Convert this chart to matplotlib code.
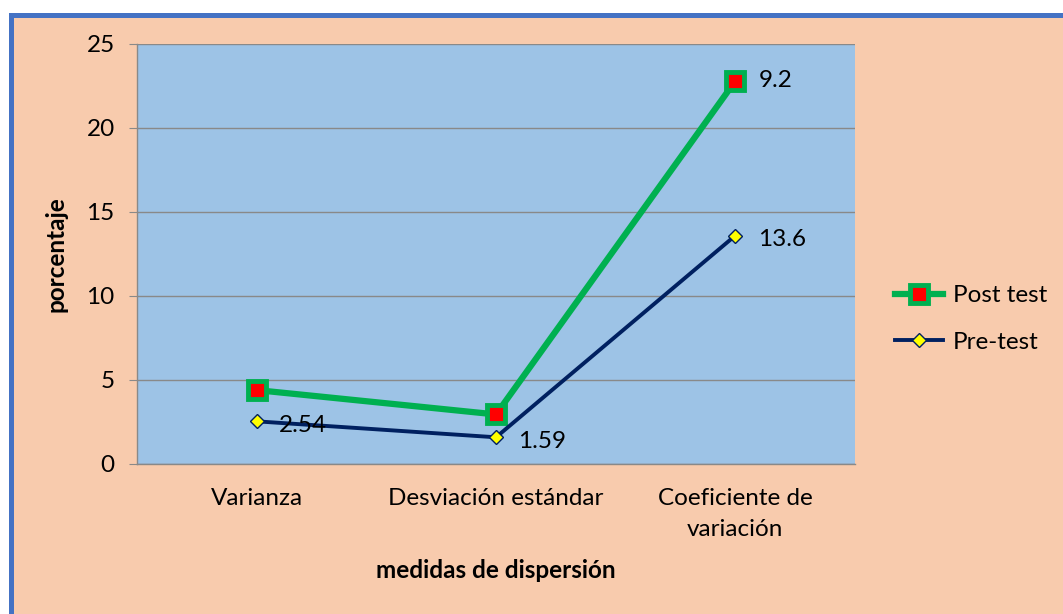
import matplotlib
matplotlib.use("Agg")
import matplotlib.pyplot as plt
from matplotlib.patches import Rectangle
import numpy as np

categories = ["Varianza", "Desviación estándar", "Coeficiente de\nvariación"]
post_test = [4.4, 2.95, 22.8]
pre_test = [2.54, 1.59, 13.6]
# etiquetas tal como aparecen en el grafico original
pre_labels = ["2.54", "1.59", "13.6"]
post_labels = ["", "", "9.2"]

plt.rcParams['font.family'] = ['Lato', 'DejaVu Sans']
FS = 17.5

W, H = 1063, 614
fig = plt.figure(figsize=(W / 100, H / 100), dpi=100)
fig.patch.set_facecolor("white")

# fondo salmon con borde azul (cortado a la derecha y abajo)
bx, by = 10.5 / W, 14.5 / H
fig.patches.append(Rectangle((bx, -0.05), 1.2, 1 - by + 0.05, transform=fig.transFigure,
                             facecolor="#F8CBAD", edgecolor="#4472C4", linewidth=3.6, zorder=-5))

ax = fig.add_axes([137 / W, 1 - 464 / H, (855 - 137) / W, (464 - 44) / H])
ax.set_facecolor("#9DC3E6")

x = np.arange(len(categories))
ax.plot(x, post_test, color="#00B050", lw=4.5, marker="s", markersize=13,
        markerfacecolor="#FF0000", markeredgecolor="#00B050", markeredgewidth=3.5,
        label="Post test", zorder=3)
ax.plot(x, pre_test, color="#002060", lw=2.8, marker="D", markersize=7,
        markerfacecolor="#FFFF00", markeredgecolor="#002060", markeredgewidth=1,
        label="Pre-test", zorder=4)

for xi, yi, t in zip(x, pre_test, pre_labels):
    if t:
        ax.annotate(t, (xi, yi), xytext=(16, -3), textcoords="offset points",
                    ha="left", va="center", fontsize=FS, color="black", zorder=5)
for xi, yi, t in zip(x, post_test, post_labels):
    if t:
        ax.annotate(t, (xi, yi), xytext=(17, 0), textcoords="offset points",
                    ha="left", va="center", fontsize=FS, color="black", zorder=5)

ax.set_xlim(-0.5, len(categories) - 0.5)
ax.set_ylim(0, 25)
ax.set_yticks([0, 5, 10, 15, 20, 25])
ax.set_xticks(x)
ax.set_xticklabels(categories, fontsize=FS, linespacing=1.6)
ax.tick_params(axis="y", labelsize=FS, length=6, color="#898989", pad=10)
ax.tick_params(axis="x", length=0, pad=17)
ax.grid(axis="y", color="#898989", lw=1)
ax.set_axisbelow(True)
for s in ["top", "right"]:
    ax.spines[s].set_visible(False)
for s in ["left", "bottom"]:
    ax.spines[s].set_color("#898989")
    ax.spines[s].set_linewidth(1)

ax.set_ylabel("porcentaje", fontsize=FS, fontweight="bold", labelpad=14)
ax.set_xlabel("medidas de dispersión", fontsize=FS, fontweight="bold", labelpad=14)

leg = ax.legend(loc="center left", bbox_to_anchor=(1.025, 0.345), frameon=False,
                fontsize=FS, handlelength=2.0, labelspacing=1.05, handletextpad=0.4)

fig.savefig("out.png", dpi=100)
